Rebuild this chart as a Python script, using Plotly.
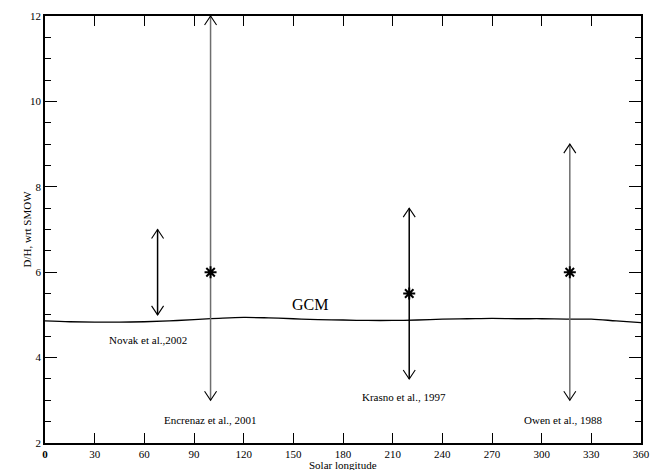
import plotly.graph_objects as go

# GCM model curve
gcm_ls = [0, 15, 30, 45, 60, 75, 90, 105, 120, 135, 150, 165, 180, 195, 210, 225, 240, 255, 270, 285, 300, 315, 330, 345, 360]
gcm_dh = [4.86, 4.84, 4.83, 4.83, 4.84, 4.86, 4.89, 4.92, 4.94, 4.93, 4.91, 4.89, 4.88, 4.87, 4.87, 4.88, 4.90, 4.91, 4.92, 4.91, 4.91, 4.90, 4.90, 4.86, 4.82]

# Observations
obs_names = ["Novak et al.,2002", "Encrenaz et al., 2001", "Krasno et al., 1997", "Owen et al., 1988"]
obs_ls = [68, 100, 220, 317]
obs_low = [5.0, 3.0, 3.5, 3.0]
obs_high = [7.0, 12.0, 7.5, 9.0]
obs_value = [None, 6.0, 5.5, 6.0]
obs_color = ["black", "#6e6e6e", "black", "#6e6e6e"]
label_ls = [62, 100, 217, 313]
label_dh = [4.41, 2.55, 3.08, 2.55]

x_ticks = [0, 30, 60, 90, 120, 150, 180, 210, 240, 270, 300, 330, 360]
x_ticktext = ["<b>0</b>"] + [str(v) for v in x_ticks[1:]]
y_ticks = [2, 4, 6, 8, 10, 12]

FONT = "Liberation Serif, Times New Roman, DejaVu Serif, serif"

X_RANGE = [0, 360]
Y_RANGE = [2, 12]
W, H = 656, 462
M = dict(l=37, r=23, t=8, b=27)
plot_w = W - M["l"] - M["r"]
plot_h = H - M["t"] - M["b"]
# arrow head size in pixels converted to data units
HEAD_HALF_W = 6 * (X_RANGE[1] - X_RANGE[0]) / plot_w
HEAD_LEN = 9 * (Y_RANGE[1] - Y_RANGE[0]) / plot_h

fig = go.Figure()

fig.add_trace(go.Scatter(x=gcm_ls, y=gcm_dh, mode="lines", line=dict(color="black", width=1.3, shape="spline"),
                         showlegend=False, hoverinfo="skip"))

for ls, lo, hi, c in zip(obs_ls, obs_low, obs_high, obs_color):
    fig.add_trace(go.Scatter(x=[ls, ls], y=[lo, hi], mode="lines", line=dict(color=c, width=1.5),
                             showlegend=False, hoverinfo="skip"))
    hx = [ls - HEAD_HALF_W, ls, ls + HEAD_HALF_W, None, ls - HEAD_HALF_W, ls, ls + HEAD_HALF_W]
    hy = [hi - HEAD_LEN, hi, hi - HEAD_LEN, None, lo + HEAD_LEN, lo, lo + HEAD_LEN]
    fig.add_trace(go.Scatter(x=hx, y=hy, mode="lines", line=dict(color="black", width=1.1),
                             showlegend=False, hoverinfo="skip", cliponaxis=False))

sx = [ls for ls, v in zip(obs_ls, obs_value) if v is not None]
sy = [v for v in obs_value if v is not None]
fig.add_trace(go.Scatter(x=sx, y=sy, mode="markers",
                         marker=dict(symbol="asterisk-open", size=10, color="black",
                                     line=dict(color="black", width=2)),
                         showlegend=False, hoverinfo="skip"))

annotations = []
for name, lx, ly in zip(obs_names, label_ls, label_dh):
    annotations.append(dict(x=lx, y=ly, xref="x", yref="y", text=name, showarrow=False,
                            font=dict(family=FONT, size=11, color="black")))
annotations.append(dict(x=160, y=5.24, xref="x", yref="y", text="GCM", showarrow=False,
                        font=dict(family=FONT, size=16, color="black")))
annotations.append(dict(x=0.5, y=0, xref="paper", yref="paper", yshift=-14, text="Solar longitude",
                        showarrow=False, yanchor="top", xanchor="center",
                        font=dict(family=FONT, size=11, color="black")))
annotations.append(dict(x=0, y=0.5, xref="paper", yref="paper", xshift=-27, text="D/H, wrt SMOW",
                        showarrow=False, textangle=-90, font=dict(family=FONT, size=11, color="black")))

fig.update_layout(
    width=W, height=H,
    margin=M,
    paper_bgcolor="white", plot_bgcolor="white",
    font=dict(family=FONT, size=11, color="black"),
    annotations=annotations,
    showlegend=False,
)
fig.update_xaxes(range=X_RANGE, tickvals=x_ticks, ticktext=x_ticktext, ticks="inside", ticklen=10,
                 tickwidth=1.3, tickcolor="black", showline=True, linecolor="black", linewidth=1.5,
                 mirror="allticks", showgrid=False, zeroline=False, automargin=False,
                 tickfont=dict(family=FONT, size=11, color="black"))
fig.update_yaxes(range=Y_RANGE, tickvals=y_ticks, ticks="inside", ticklen=12,
                 tickwidth=1.3, tickcolor="black", showline=True, linecolor="black", linewidth=1.5,
                 mirror="allticks", showgrid=False, zeroline=False, automargin=False,
                 minor=dict(dtick=0.5, ticks="inside", ticklen=6, tickwidth=1.2, tickcolor="black", showgrid=False),
                 tickfont=dict(family=FONT, size=11, color="black"))

fig.write_html("out.html")
